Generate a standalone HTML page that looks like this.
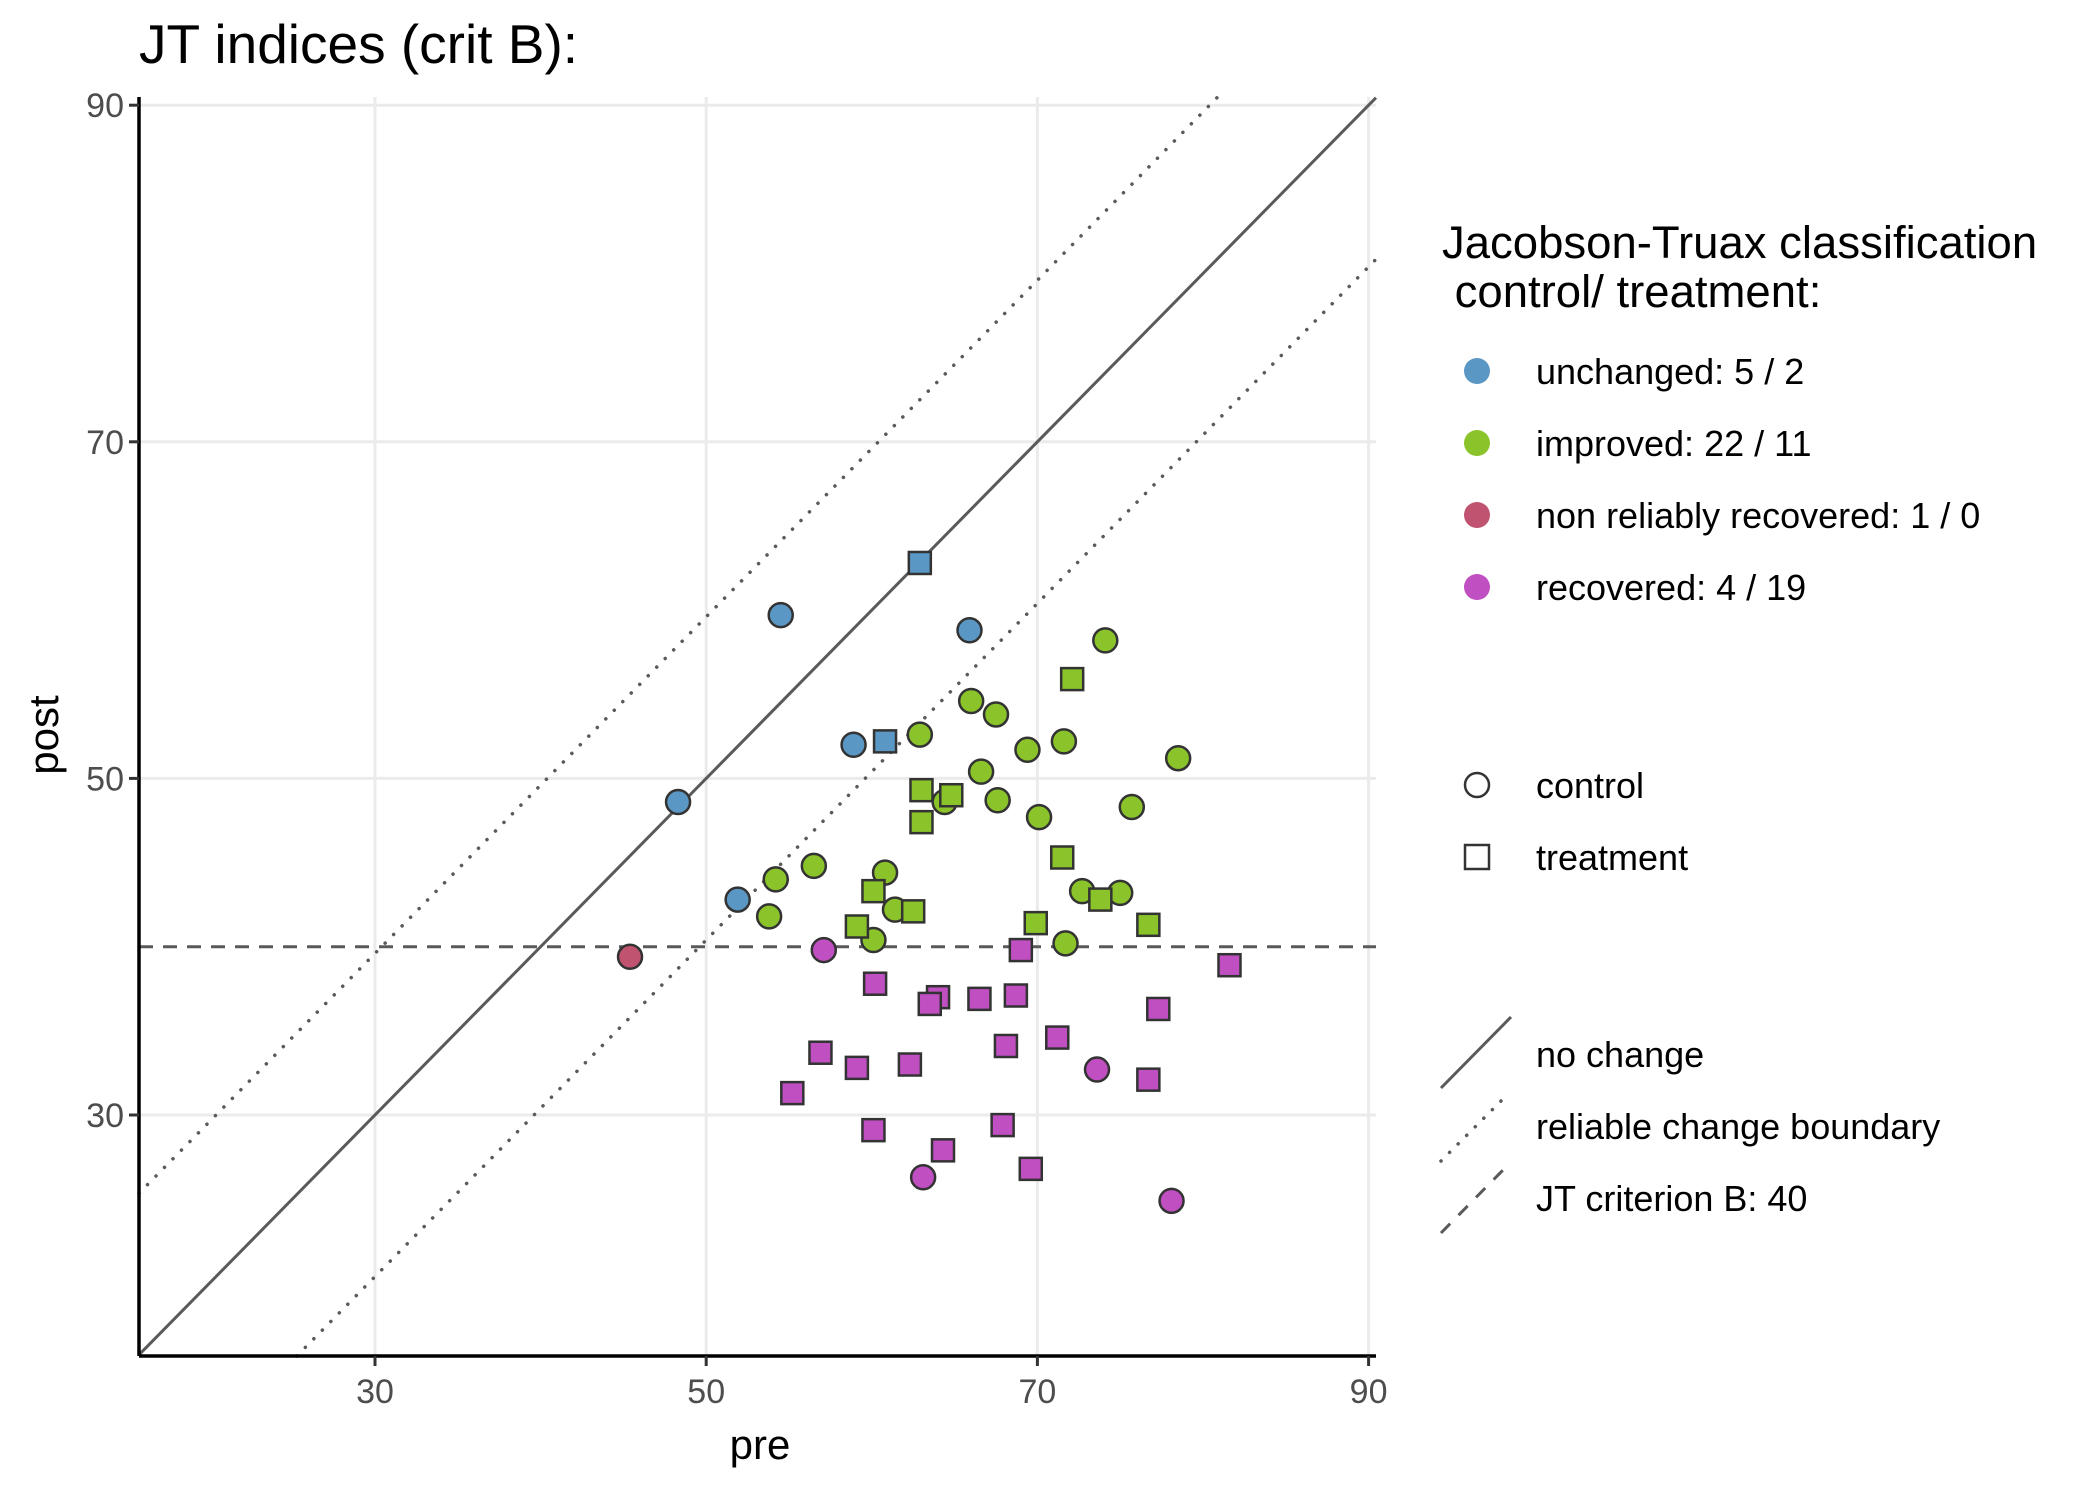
<!DOCTYPE html>
<html><head><meta charset="utf-8"><style>
html,body{margin:0;padding:0;background:#fff;}
svg{display:block;font-family:"Liberation Sans",Arial,sans-serif;}
</style></head><body>
<svg id="chart" width="2100" height="1491" viewBox="0 0 2100 1491" xmlns="http://www.w3.org/2000/svg">
<rect x="0" y="0" width="2100" height="1491" fill="#fff"/>
<text x="139" y="63" font-size="55" fill="#000">JT indices (crit B):</text>
<g id="grid"></g>
<g id="refs"></g>
<g id="points"></g>
<g id="axes"></g>
<text x="760" y="1459" font-size="42" text-anchor="middle" fill="#000">pre</text>
<text transform="translate(58,735) rotate(-90)" font-size="42" text-anchor="middle" fill="#000">post</text>
<g>
<text x="1442" y="258" font-size="45.5" fill="#000">Jacobson-Truax classification</text>
<text x="1442" y="307" font-size="45.5" fill="#000" xml:space="preserve"> control/ treatment:</text>
<circle cx="1477" cy="371" r="13" fill="#5B97C4"/>
<text x="1536" y="384" font-size="36">unchanged: 5 / 2</text>
<circle cx="1477" cy="443" r="13" fill="#8AC42A"/>
<text x="1536" y="456" font-size="36">improved: 22 / 11</text>
<circle cx="1477" cy="515" r="13" fill="#C0536F"/>
<text x="1536" y="528" font-size="36">non reliably recovered: 1 / 0</text>
<circle cx="1477" cy="587" r="13" fill="#C04FC2"/>
<text x="1536" y="600" font-size="36">recovered: 4 / 19</text>
<circle cx="1477" cy="785" r="12" fill="none" stroke="#333" stroke-width="2.5"/>
<text x="1536" y="798" font-size="36">control</text>
<rect x="1465" y="845" width="24" height="24" fill="none" stroke="#333" stroke-width="2.5"/>
<text x="1536" y="870" font-size="36">treatment</text>
<line x1="1441" y1="1088" x2="1511" y2="1017" stroke="#5a5a5a" stroke-width="3"/>
<text x="1536" y="1067" font-size="36">no change</text>
<line x1="1441" y1="1161" x2="1507" y2="1095" stroke="#5a5a5a" stroke-width="3.5" stroke-dasharray="0.1 12" stroke-linecap="round"/>
<text x="1536" y="1139" font-size="36">reliable change boundary</text>
<line x1="1441" y1="1233" x2="1505" y2="1168" stroke="#5a5a5a" stroke-width="3" stroke-dasharray="13 12"/>
<text x="1536" y="1211" font-size="36">JT criterion B: 40</text>
</g>
</svg>
<script>
const NS='http://www.w3.org/2000/svg';
const xTicks=[30,50,70,90];
const yTicks=[30,50,70,90];
const criterion=40;
const rcOffset=9.6;
const unchangedCtrlPre=[54.5,65.9,58.9,48.3,51.9];
const unchangedCtrlPost=[59.7,58.8,52.0,48.6,42.8];
const unchangedTrtPre=[62.9,60.8];
const unchangedTrtPost=[62.8,52.2];
const nrrCtrlPre=[45.4];
const nrrCtrlPost=[39.4];
const improvedCtrlPre=[74.1,66.0,67.5,62.9,71.6,69.4,78.5,66.6,67.6,64.4,75.7,70.1,56.5,54.2,60.8,72.7,75.0,61.4,53.8,60.1,71.7];
const improvedCtrlPost=[58.2,54.6,53.8,52.6,52.2,51.7,51.2,50.4,48.7,48.6,48.3,47.7,44.8,44.0,44.4,43.3,43.2,42.2,41.8,40.4,40.2];
const improvedTrtPre=[72.1,63.0,64.8,63.0,71.5,60.1,73.8,62.5,69.9,59.1,76.7];
const improvedTrtPost=[55.9,49.3,49.0,47.4,45.3,43.3,42.8,42.1,41.4,41.2,41.3];
const recoveredCtrlPre=[57.1,73.6,63.1,78.1];
const recoveredCtrlPost=[39.8,32.7,26.3,24.9];
const recoveredTrtPre=[69.0,81.6,60.2,64.0,63.5,66.5,68.7,77.3,71.2,56.9,68.1,59.1,62.3,76.7,55.2,60.1,67.9,64.3,69.6];
const recoveredTrtPost=[39.8,38.9,37.8,37.0,36.6,36.9,37.1,36.3,34.6,33.7,34.1,32.8,33.0,32.1,31.3,29.1,29.4,27.9,26.8];

const L=139,R=1376,T=97,B=1356;
function sx(v){return 375+(v-30)*16.56;}
function sy(v){return 1115-(v-30)*16.83;}
const xmin=30-(375-L)/16.56, xmax=30+(R-375)/16.56;
const ymin=30-(B-1115)/16.83, ymax=30+(1115-T)/16.83;
function mk(tag,attrs,parent){const e=document.createElementNS(NS,tag);for(const k in attrs)e.setAttribute(k,attrs[k]);parent.appendChild(e);return e;}

const grid=document.getElementById('grid');
xTicks.forEach(t=>{
  const l=mk('line',{x1:sx(t),x2:sx(t),y1:T,y2:B,stroke:'#ebebeb','stroke-width':3},grid);
  
  
});
yTicks.forEach(t=>{
  const l=mk('line',{x1:L,x2:R,y1:sy(t),y2:sy(t),stroke:'#ebebeb','stroke-width':3},grid);
  
  
});

const refs=document.getElementById('refs');
function diag(off,attrs,name){
  let x1=Math.max(xmin,ymin-off), x2=Math.min(xmax,ymax-off);
  const a=Object.assign({x1:sx(x1),y1:sy(x1+off),x2:sx(x2),y2:sy(x2+off),stroke:'#5a5a5a'},attrs);
  const l=mk('line',a,refs);
  
  
}
diag(0,{'stroke-width':3},'no-change-line');
diag(rcOffset,{'stroke-width':3.5,'stroke-dasharray':'0.1 12','stroke-linecap':'round'},'upper-reliable-change-line');
diag(-rcOffset,{'stroke-width':3.5,'stroke-dasharray':'0.1 12','stroke-linecap':'round'},'lower-reliable-change-line');
const cl=mk('line',{x1:L,x2:R,y1:sy(criterion),y2:sy(criterion),stroke:'#5a5a5a','stroke-width':3,'stroke-dasharray':'14 10'},refs);



const pts=document.getElementById('points');
function circles(xs,ys,col,name){
  xs.forEach((x,i)=>{
    const c=mk('circle',{cx:sx(x),cy:sy(ys[i]),r:12,fill:col,stroke:'#333','stroke-width':2.5},pts);
    
    
  });
}
function squares(xs,ys,col,name){
  xs.forEach((x,i)=>{
    const c=mk('rect',{x:sx(x)-11,y:sy(ys[i])-11,width:22,height:22,fill:col,stroke:'#333','stroke-width':2.5},pts);
    
    
  });
}
circles(improvedCtrlPre,improvedCtrlPost,'#8AC42A','point-improved-control');
squares(improvedTrtPre,improvedTrtPost,'#8AC42A','point-improved-treatment');
circles(unchangedCtrlPre,unchangedCtrlPost,'#5B97C4','point-unchanged-control');
squares(unchangedTrtPre,unchangedTrtPost,'#5B97C4','point-unchanged-treatment');
circles(nrrCtrlPre,nrrCtrlPost,'#C0536F','point-nrr-control');
circles(recoveredCtrlPre,recoveredCtrlPost,'#C04FC2','point-recovered-control');
squares(recoveredTrtPre,recoveredTrtPost,'#C04FC2','point-recovered-treatment');

const axes=document.getElementById('axes');
const xa=mk('line',{x1:L,x2:R,y1:B,y2:B,stroke:'#000','stroke-width':3.5},axes);


const ya=mk('line',{x1:L,x2:L,y1:T,y2:B,stroke:'#000','stroke-width':3.5},axes);


xTicks.forEach(t=>{
  const tk=mk('line',{x1:sx(t),x2:sx(t),y1:B,y2:B+10,stroke:'#333','stroke-width':3},axes);
  
  
  const tx=mk('text',{x:sx(t),y:1403,'font-size':34,'text-anchor':'middle',fill:'#4d4d4d'},axes);
  tx.textContent=t;
  
  
});
yTicks.forEach(t=>{
  const tk=mk('line',{x1:L-10,x2:L,y1:sy(t),y2:sy(t),stroke:'#333','stroke-width':3},axes);
  
  
  const tx=mk('text',{x:L-15,y:sy(t)+12,'font-size':34,'text-anchor':'end',fill:'#4d4d4d'},axes);
  tx.textContent=t;
  
  
});
</script>
</body></html>
